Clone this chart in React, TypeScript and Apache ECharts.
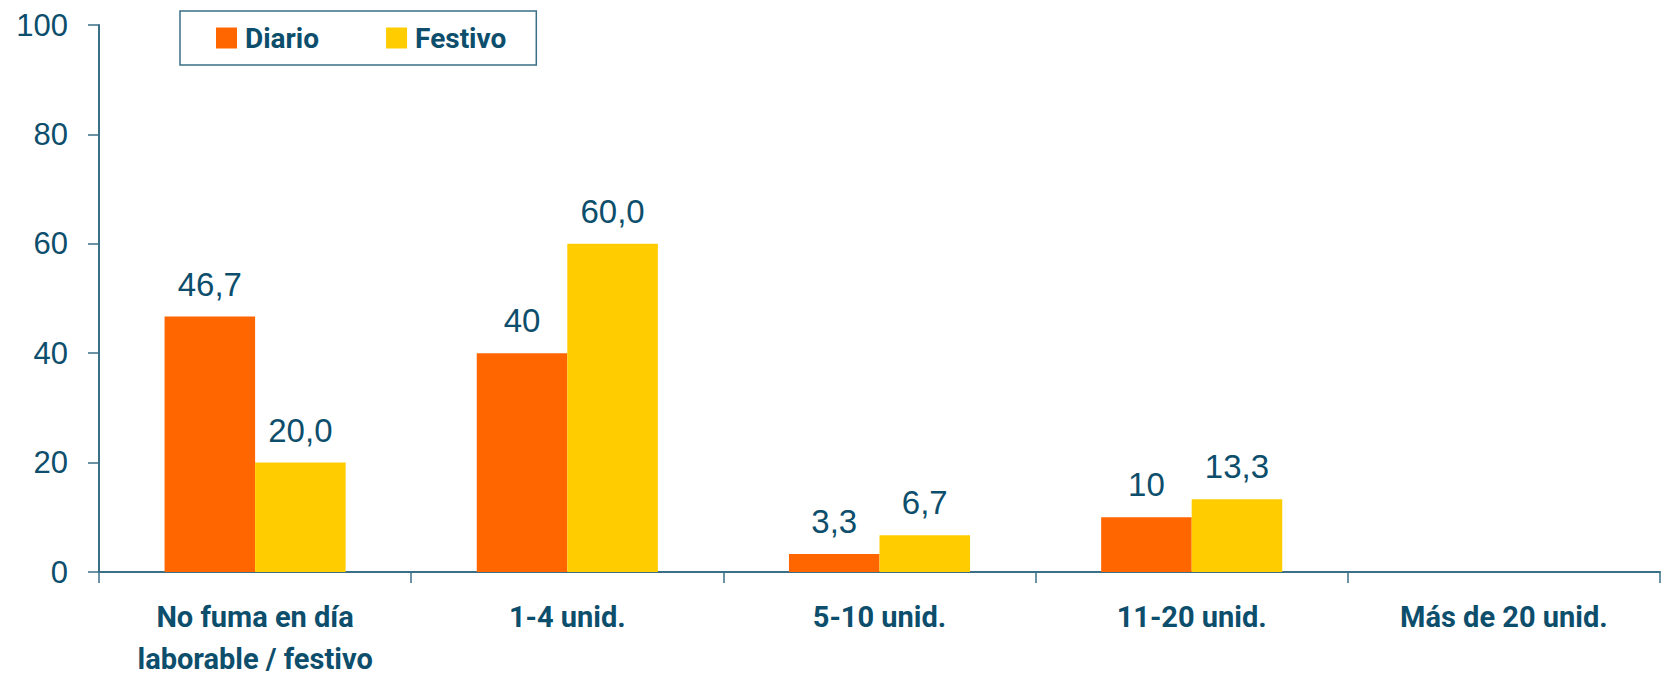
import React, { useEffect, useRef } from "react";
import * as echarts from "echarts";

const categories = [
  "No fuma en día\nlaborable / festivo",
  "1-4 unid.",
  "5-10 unid.",
  "11-20 unid.",
  "Más de 20 unid.",
];
const diario: (number | null)[] = [46.7, 40, 3.3, 10, null];
const festivo: (number | null)[] = [20.0, 60.0, 6.7, 13.3, null];
const yTicks = { min: 0, max: 100, interval: 20 };

const TEXT = "#0C4E6B";
const AXIS = "#3A6F88";
const NARROW = "Roboto, 'Liberation Sans', sans-serif";
const SANS = "'Liberation Sans', Arial, sans-serif";

export default function App() {
  const ref = useRef<HTMLDivElement>(null);
  useEffect(() => {
    if (!ref.current) return;
    const chart = echarts.init(ref.current, undefined, { renderer: "svg" });
    const labelStyle = {
      show: true,
      position: "top" as const,
      distance: 16,
      color: TEXT,
      fontSize: 33,
      fontFamily: SANS,
    };
    chart.setOption({
      animation: false,
      backgroundColor: "#ffffff",
      grid: { left: 99, right: 5, top: 25, bottom: 84, containLabel: false },
      legend: {
        left: 180,
        top: 11,
        itemWidth: 21,
        itemHeight: 21,
        itemGap: 67,
        icon: "rect",
        padding: [13, 30, 13, 36],
        borderColor: AXIS,
        borderWidth: 1.5,
        textStyle: {
          color: TEXT,
          fontSize: 28,
          fontWeight: "bold",
          fontFamily: NARROW,
          padding: [0, 0, 0, 3],
        },
        data: ["Diario", "Festivo"],
      },
      xAxis: {
        type: "category",
        data: categories,
        axisLine: { lineStyle: { color: AXIS, width: 2 } },
        axisTick: { show: true, length: 11, lineStyle: { color: AXIS, width: 1.5 } },
        axisLabel: {
          color: TEXT,
          fontSize: 29,
          fontWeight: "bold",
          fontFamily: NARROW,
          lineHeight: 42,
          margin: 24,
          interval: 0,
        },
      },
      yAxis: {
        type: "value",
        min: yTicks.min,
        max: yTicks.max,
        interval: yTicks.interval,
        splitLine: { show: false },
        axisLine: { show: true, lineStyle: { color: AXIS, width: 2 } },
        axisTick: { show: true, length: 11, lineStyle: { color: AXIS, width: 1.5 } },
        axisLabel: { color: TEXT, fontSize: 31, fontFamily: SANS, margin: 31 },
      },
      series: [
        {
          name: "Diario",
          type: "bar",
          data: diario,
          barWidth: "29%",
          barGap: "0%",
          itemStyle: { color: "#FF6600" },
          label: {
            ...labelStyle,
            formatter: (p: any) => String(p.value).replace(".", ","),
          },
        },
        {
          name: "Festivo",
          type: "bar",
          data: festivo,
          barWidth: "29%",
          barGap: "0%",
          itemStyle: { color: "#FFCC00" },
          label: {
            ...labelStyle,
            formatter: (p: any) => Number(p.value).toFixed(1).replace(".", ","),
          },
        },
      ],
    });
    return () => chart.dispose();
  }, []);
  return (
    <div
      ref={ref}
      style={{ position: "fixed", left: 0, top: 0, width: 1665, height: 680, background: "#fff" }}
    />
  );
}
